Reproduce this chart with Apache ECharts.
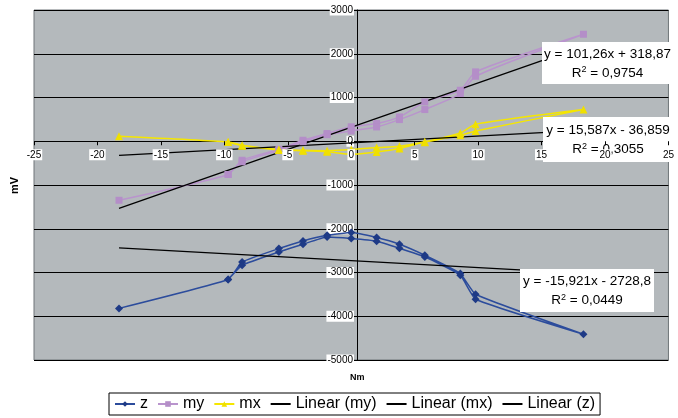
<!DOCTYPE html>
<html>
<head>
<meta charset="utf-8">
<script src="https://cdn.jsdelivr.net/npm/echarts@6/dist/echarts.min.js"></script>
<style>
  html, body { margin: 0; padding: 0; background: #fff; }
  #chart { width: 678px; height: 418px; }
</style>
</head>
<body>
<div id="chart"></div>
<script>
// x positions (Nm): outward branch then return branch of each loop
const xUp = [-18.3, -9.7, -8.6, -5.7, -3.8, -1.9, 0, 2, 3.8, 5.8, 8.6, 9.8, 18.3];
const xDown = [9.8, 8.6, 5.8, 3.8, 2, 0, -1.9, -3.8, -5.7, -8.6, -9.7];

// mV readings
const zUp = [-3820, -3160, -2760, -2453, -2278, -2150, -2088, -2202, -2354, -2606, -3025, -3497, -4411];
const zDown = [-3611, -3063, -2644, -2446, -2286, -2225, -2190, -2354, -2530, -2834, -3160];
const myUp = [-1349, -760, -434, -183, 23, 176, 330, 404, 556, 899, 1166, 1585, 2446];
const myDown = [1486, 1090, 724, 495, 327, 235, 150, -10, -215, -470, -760];
const mxUp = [114, -16, -91, -190, -206, -215, -190, -145, -114, -10, 190, 389, 724];
const mxDown = [236, 137, -20, -167, -244, -297, -240, -215, -200, -100, -16];

// trend line end points (x = -18.3 and 18.3)
const trendX = [-18.3, 18.3];
const trendMy = [-1534, 2172];
const trendMx = [-322, 248];
const trendZ = [-2437, -3020];

const xTicks = { min: -25, max: 25, step: 5 };
const yTicks = { min: -5000, max: 3000, step: 1000 };

function pairs(xs, ys) {
  return xs.map((x, i) => [x, ys[i]]);
}
function loop(up, down) {
  return pairs(xUp, up).concat(pairs(xDown, down));
}

const font = "'Liberation Sans', Arial, sans-serif";
const chart = echarts.init(document.getElementById('chart'));

// grid box, used to put the axes through the origin
const gLeft = 34, gTop = 10, gRight = -2, gBottom = 58;
const gW = 678 - gLeft - gRight, gH = 418 - gTop - gBottom;
const yAxisShift = gW * (0 - xTicks.min) / (xTicks.max - xTicks.min);
const xAxisShift = gH * (0 - yTicks.min) / (yTicks.max - yTicks.min);

function eqBox(x, y, w, h, line1, r2) {
  return {
    type: 'group',
    left: x,
    top: y,
    z: 50,
    children: [
      { type: 'rect', z: 50, shape: { x: 0, y: 0, width: w, height: h }, style: { fill: '#fff' } },
      {
        type: 'text', z: 51, x: w / 2, y: h / 2 - 9,
        style: { text: line1, fill: '#000', font: '13.5px ' + font, textAlign: 'center', textVerticalAlign: 'middle' }
      },
      {
        type: 'text', z: 51, x: w / 2, y: h / 2 + 10,
        style: {
          text: 'R{sup|2} = ' + r2,
          fill: '#000', font: '13.5px ' + font, textAlign: 'center', textVerticalAlign: 'middle',
          rich: { sup: { fontSize: 9, verticalAlign: 'top', padding: [0, 0, 6, 0], fontFamily: font, fill: '#000' } }
        }
      }
    ]
  };
}

const plainLabel = (v) => String(v);

chart.setOption({
  animation: false,
  backgroundColor: '#fff',
  textStyle: { fontFamily: font },
  grid: {
    left: gLeft, top: gTop, right: gRight, bottom: gBottom,
    show: true, backgroundColor: '#b4b9bc', borderColor: '#6f7478', borderWidth: 1
  },
  xAxis: {
    type: 'value',
    min: xTicks.min, max: xTicks.max, interval: xTicks.step,
    z: 100,
    position: 'bottom',
    offset: -xAxisShift,
    axisLine: { show: false, onZero: false },
    axisTick: { show: true, length: 4, lineStyle: { color: '#000' } },
    axisLabel: {
      color: '#000', fontSize: 10, fontFamily: font, margin: 8,
      backgroundColor: '#fff', padding: [1, 1, 0, 1], formatter: plainLabel
    },
    splitLine: { show: false }
  },
  yAxis: {
    type: 'value',
    min: yTicks.min, max: yTicks.max, interval: yTicks.step,
    position: 'left',
    offset: -yAxisShift,
    axisLine: { show: true, onZero: false, lineStyle: { color: '#000' } },
    axisTick: { show: true, length: 4, lineStyle: { color: '#000' } },
    axisLabel: {
      color: '#000', fontSize: 10, fontFamily: font, margin: 3,
      backgroundColor: '#fff', padding: [1, 1, 0, 1], formatter: plainLabel
    },
    splitLine: { show: true, lineStyle: { color: '#000', width: 1 } }
  },
  legend: {
    left: 109, top: 393,
    padding: [3, 5, 3, 5],
    borderColor: '#000', borderWidth: 1,
    itemWidth: 20, itemHeight: 7, itemGap: 9,
    textStyle: { fontSize: 16, color: '#000', fontFamily: font },
    data: [
      'z', 'my', 'mx',
      { name: 'Linear (my)', itemStyle: { opacity: 0 } },
      { name: 'Linear (mx)', itemStyle: { opacity: 0 } },
      { name: 'Linear (z)', itemStyle: { opacity: 0 } }
    ]
  },
  graphic: [
    eqBox(542, 42, 131, 42, 'y = 101,26x + 318,87', '0,9754'),
    eqBox(543, 117, 130, 45, 'y = 15,587x - 36,859', '0,3055'),
    eqBox(520, 269, 134, 43, 'y = -15,921x - 2728,8', '0,0449'),
    {
      type: 'text', left: 9, top: 177, rotation: Math.PI / 2, z: 60,
      style: { text: 'mV', fill: '#000', font: 'bold 11px ' + font }
    },
    {
      type: 'text', left: 350, top: 373, z: 60,
      style: { text: 'Nm', fill: '#000', font: 'bold 9px ' + font }
    }
  ],
  series: [
    {
      name: 'z', type: 'line', smooth: 0.12,
      data: loop(zUp, zDown),
      color: '#24449a',
      symbol: 'diamond', symbolSize: 8,
      lineStyle: { width: 1.5, color: '#2c4c9c' },
      itemStyle: { color: '#1e3a86' }
    },
    {
      name: 'my', type: 'line', smooth: 0.2,
      data: loop(myUp, myDown),
      color: '#b892cc',
      symbol: 'rect', symbolSize: 7,
      lineStyle: { width: 1.5, color: '#b994cd' },
      itemStyle: { color: '#b48ec8' }
    },
    {
      name: 'mx', type: 'line', smooth: 0.2,
      data: loop(mxUp, mxDown),
      color: '#f3e300',
      symbol: 'triangle', symbolSize: 8,
      lineStyle: { width: 1.5, color: '#f5e600' },
      itemStyle: { color: '#f0e000' }
    },
    {
      name: 'Linear (my)', type: 'line', data: pairs(trendX, trendMy),
      symbol: 'none', color: '#000', lineStyle: { width: 1.3, color: '#000' }
    },
    {
      name: 'Linear (mx)', type: 'line', data: pairs(trendX, trendMx),
      symbol: 'none', color: '#000', lineStyle: { width: 1.3, color: '#000' }
    },
    {
      name: 'Linear (z)', type: 'line', data: pairs(trendX, trendZ),
      symbol: 'none', color: '#000', lineStyle: { width: 1.3, color: '#000' }
    }
  ]
});
</script>
</body>
</html>
